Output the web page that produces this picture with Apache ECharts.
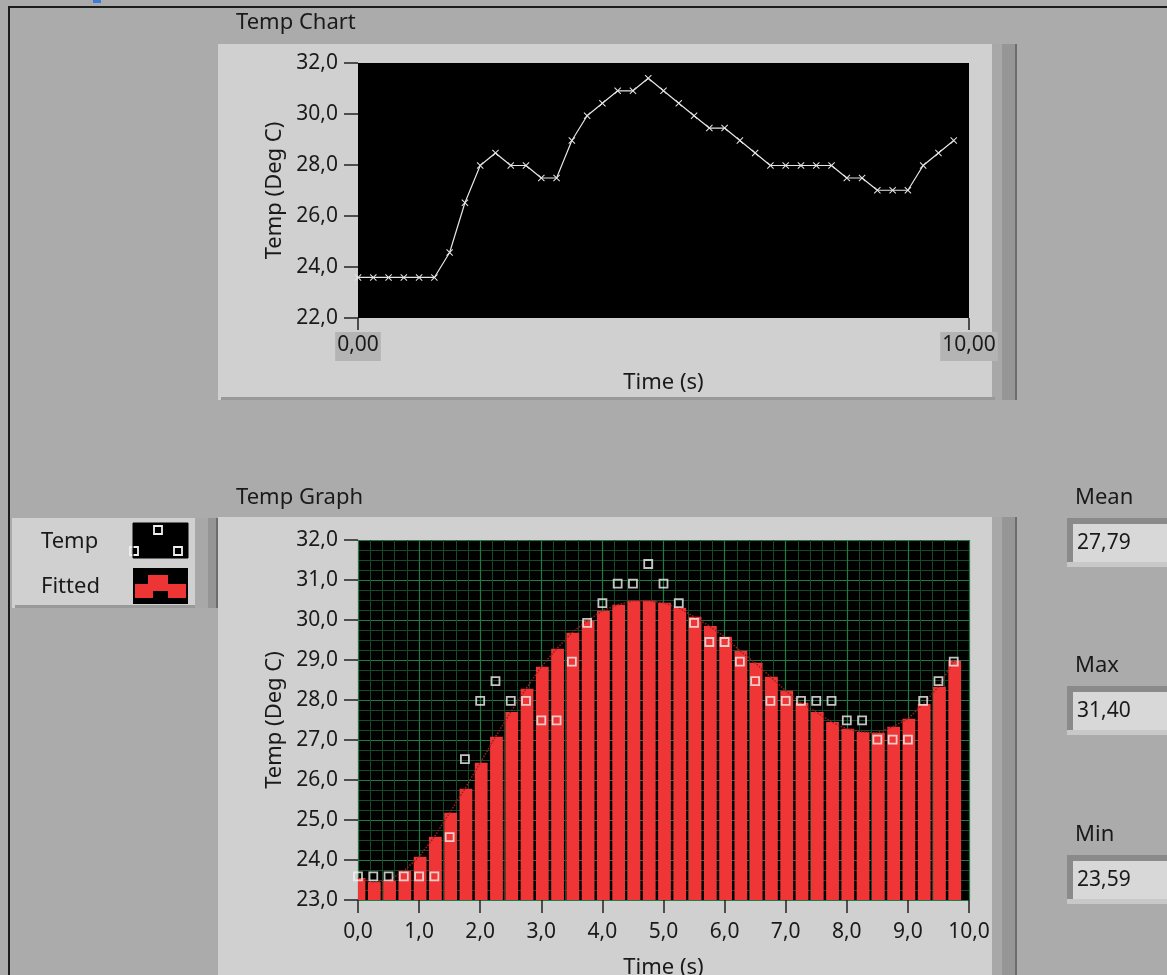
<!DOCTYPE html>
<html><head><meta charset="utf-8">
<script src="https://cdn.jsdelivr.net/npm/echarts@6/dist/echarts.min.js"></script>
<style>html,body{margin:0;padding:0;background:#ababab;}#c{width:1167px;height:975px;}</style>
</head><body><div id="c"></div>
<script>
// ---- data ----
const times = [0, 0.25, 0.5, 0.75, 1, 1.25, 1.5, 1.75, 2, 2.25, 2.5, 2.75, 3, 3.25, 3.5, 3.75, 4, 4.25, 4.5, 4.75,
               5, 5.25, 5.5, 5.75, 6, 6.25, 6.5, 6.75, 7, 7.25, 7.5, 7.75, 8, 8.25, 8.5, 8.75, 9, 9.25, 9.5, 9.75];
const tempValues = [23.59, 23.59, 23.59, 23.59, 23.59, 23.59, 24.57, 26.52, 27.98, 28.47, 27.98, 27.98, 27.49, 27.49, 28.96, 29.93, 30.42, 30.91, 30.91, 31.40,
                    30.91, 30.42, 29.93, 29.45, 29.45, 28.96, 28.47, 27.98, 27.98, 27.98, 27.98, 27.98, 27.49, 27.49, 27.01, 27.01, 27.01, 27.98, 28.47, 28.96];
const fittedValues = [23.55, 23.45, 23.48, 23.73, 24.08, 24.58, 25.18, 25.78, 26.43, 27.08, 27.70, 28.28, 28.83, 29.28, 29.68, 29.98, 30.23, 30.38, 30.48, 30.48,
                      30.43, 30.30, 30.08, 29.85, 29.58, 29.23, 28.93, 28.58, 28.23, 27.93, 27.70, 27.45, 27.28, 27.20, 27.18, 27.33, 27.53, 27.90, 28.33, 28.98];
const statNames = ['Mean', 'Max', 'Min'];
const statValues = ['27,79', '31,40', '23,59'];
const chartTitle = 'Temp Chart';
const graphTitle = 'Temp Graph';
const legendNames = ['Temp', 'Fitted'];
const xName = 'Time (s)';
const yName = 'Temp (Deg C)';
const chartY = {min: 22, max: 32, interval: 2};
const graphY = {min: 23, max: 32, interval: 1};
const xRange = {min: 0, max: 10};

// ---- styling ----
const FONT = 'Noto Sans';
const FS = 22;      // words
const FN = 21;      // numbers
const TXT = '#1a1a1a';
const comma = (v, d) => v.toFixed(d).replace('.', ',');
const font = s => s + 'px "' + FONT + '"';

const tempPairs = times.map((t, i) => [t, tempValues[i]]);
const fitPairs = times.map((t, i) => [t, fittedValues[i]]);

function frame(x, y, w, h, strips) {
  const els = [
    {type: 'rect', shape: {x: x, y: y, width: w, height: h}, style: {fill: '#d0d0d0'}, z: -10},
    {type: 'rect', shape: {x: x + 3, y: y + h - 3, width: w, height: 3}, style: {fill: '#999999'}, z: -9}
  ];
  if (strips) {
    els.push({type: 'rect', shape: {x: x + w, y: y, width: 10, height: h}, style: {fill: '#a8a8a8'}, z: -10});
    els.push({type: 'rect', shape: {x: x + w + 10, y: y, width: 13, height: h}, style: {fill: '#969696'}, z: -10});
    els.push({type: 'rect', shape: {x: x + w + 23, y: y, width: 2, height: h}, style: {fill: '#6c6c6c'}, z: -10});
  }
  return els;
}

const graphics = [];
graphics.push({type: 'rect', shape: {x: 8, y: 6, width: 1159, height: 2}, style: {fill: '#1c1c1c'}, z: -5});
graphics.push({type: 'rect', shape: {x: 8, y: 6, width: 2, height: 969}, style: {fill: '#1c1c1c'}, z: -5});
graphics.push({type: 'rect', shape: {x: 93, y: 0, width: 8, height: 3}, style: {fill: '#3b7dd8'}, z: -5});
graphics.push(...frame(218, 44, 774, 356, true));
graphics.push(...frame(218, 517, 774, 470, true));
graphics.push({type: 'rect', shape: {x: 12, y: 518, width: 183, height: 90}, style: {fill: '#d0d0d0'}, z: -10});
graphics.push({type: 'rect', shape: {x: 15, y: 605, width: 180, height: 3}, style: {fill: '#999999'}, z: -9});
graphics.push({type: 'rect', shape: {x: 195, y: 518, width: 13, height: 90}, style: {fill: '#a8a8a8'}, z: -10});
graphics.push({type: 'rect', shape: {x: 208, y: 518, width: 8, height: 90}, style: {fill: '#959595'}, z: -10});
graphics.push({type: 'rect', shape: {x: 216, y: 518, width: 2, height: 90}, style: {fill: '#6c6c6c'}, z: -10});
graphics.push({type: 'text', x: 236, y: 23, style: {text: chartTitle, font: font(FS), fill: TXT, verticalAlign: 'middle'}});
graphics.push({type: 'text', x: 236, y: 498, style: {text: graphTitle, font: font(FS), fill: TXT, verticalAlign: 'middle'}});
graphics.push({type: 'text', x: 41, y: 542, style: {text: legendNames[0], font: font(FS), fill: TXT, verticalAlign: 'middle'}});
graphics.push({type: 'text', x: 41, y: 587, style: {text: legendNames[1], font: font(FS), fill: TXT, verticalAlign: 'middle'}});
graphics.push({type: 'rect', shape: {x: 133, y: 523, width: 55, height: 35}, style: {fill: '#000'}});
graphics.push({type: 'rect', shape: {x: 154, y: 526, width: 8, height: 8}, style: {fill: 'none', stroke: '#f0f0f0', lineWidth: 1.8}});
graphics.push({type: 'rect', shape: {x: 130, y: 547, width: 8, height: 8}, style: {fill: 'none', stroke: '#f0f0f0', lineWidth: 1.8}});
graphics.push({type: 'rect', shape: {x: 174, y: 547, width: 8, height: 8}, style: {fill: 'none', stroke: '#f0f0f0', lineWidth: 1.8}});
graphics.push({type: 'rect', shape: {x: 133, y: 523, width: 55, height: 35}, style: {fill: 'none', stroke: '#000', lineWidth: 1}});
graphics.push({type: 'rect', shape: {x: 133, y: 568, width: 55, height: 36}, style: {fill: '#000'}});
graphics.push({type: 'polygon', shape: {points: [[135, 598], [135, 584], [148, 584], [148, 575], [168, 575], [168, 584], [186, 584], [186, 598], [168, 598], [168, 591], [153, 591], [153, 598]]}, style: {fill: '#ee3535'}});
const statY = [518, 686, 855];
statNames.forEach((n, i) => {
  const y = statY[i];
  graphics.push({type: 'text', x: 1075, y: y - 20, style: {text: n, font: font(FS), fill: TXT, verticalAlign: 'middle'}});
  graphics.push({type: 'rect', shape: {x: 1067, y: y, width: 100, height: 49}, style: {fill: '#c8c8c8'}, z: -5});
  graphics.push({type: 'rect', shape: {x: 1067, y: y, width: 100, height: 44}, style: {fill: '#8a8a8a'}, z: -5});
  graphics.push({type: 'rect', shape: {x: 1073, y: y + 6, width: 94, height: 38}, style: {fill: '#d8d8d8'}, z: -4});
  graphics.push({type: 'text', x: 1077, y: y + 25, style: {text: statValues[i], font: font(FN), fill: TXT, verticalAlign: 'middle'}});
});

const crossPath = 'path://M0,1L1,0L5,4L9,0L10,1L6,5L10,9L9,10L5,6L1,10L0,9L4,5Z';
const wordText = {fontFamily: FONT, fontSize: FS, color: TXT};
const numText = {fontFamily: FONT, fontSize: FN, color: TXT};

const option = {
  animation: false,
  backgroundColor: '#ababab',
  textStyle: {fontFamily: FONT},
  graphic: {elements: graphics},
  grid: [
    {left: 358, top: 63, width: 611, height: 255, show: true, backgroundColor: '#000', borderWidth: 0, containLabel: false, outerBoundsMode: 'none'},
    {left: 358, top: 540, width: 611, height: 360, show: true, backgroundColor: '#000', borderWidth: 0, containLabel: false, outerBoundsMode: 'none'}
  ],
  xAxis: [
    {type: 'value', gridIndex: 0, min: xRange.min, max: xRange.max, interval: 10,
     axisLine: {show: false}, axisTick: {show: true, length: 12, lineStyle: {color: '#222', width: 1.5}},
     axisLabel: Object.assign({formatter: v => comma(v, 2), margin: 14, backgroundColor: '#b4b4b4', padding: [3, 2, 5, 2]}, numText),
     splitLine: {show: false},
     name: xName, nameLocation: 'middle', nameGap: 54, nameTextStyle: wordText},
    {type: 'value', gridIndex: 1, min: xRange.min, max: xRange.max, interval: 1,
     axisLine: {show: false}, axisTick: {show: true, length: 13, lineStyle: {color: '#222', width: 1.5}},
     axisLabel: Object.assign({formatter: v => comma(v, 1), margin: 22}, numText),
     splitLine: {show: true, lineStyle: {color: '#1f7a43', width: 1.2}},
     minorTick: {show: false, splitNumber: 5},
     minorSplitLine: {show: true, lineStyle: {color: '#134a28', width: 1}},
     name: xName, nameLocation: 'middle', nameGap: 57, nameTextStyle: wordText},
  ],
  yAxis: [
    {type: 'value', gridIndex: 0, min: chartY.min, max: chartY.max, interval: chartY.interval,
     axisLine: {show: false}, axisTick: {show: true, length: 14, lineStyle: {color: '#222', width: 1.5}},
     axisLabel: Object.assign({formatter: v => comma(v, 1), margin: 20}, numText),
     splitLine: {show: false},
     name: yName, nameLocation: 'middle', nameGap: 67, nameRotate: 90, nameTextStyle: wordText},
    {type: 'value', gridIndex: 1, min: graphY.min, max: graphY.max, interval: graphY.interval,
     axisLine: {show: false}, axisTick: {show: true, length: 14, lineStyle: {color: '#222', width: 1.5}},
     axisLabel: Object.assign({formatter: v => comma(v, 1), margin: 20}, numText),
     splitLine: {show: true, lineStyle: {color: '#1f7a43', width: 1.2}},
     minorTick: {show: false, splitNumber: 4},
     minorSplitLine: {show: true, lineStyle: {color: '#134a28', width: 1}},
     name: yName, nameLocation: 'middle', nameGap: 67, nameRotate: 90, nameTextStyle: wordText}
  ],
  series: [
    {type: 'line', xAxisIndex: 0, yAxisIndex: 0, data: tempPairs,
     symbol: crossPath, symbolSize: 7, showSymbol: true,
     lineStyle: {color: '#e6e6e6', width: 1.2}, itemStyle: {color: '#e6e6e6'}, z: 3},
    {type: 'custom', xAxisIndex: 1, yAxisIndex: 1, data: fitPairs, clip: true, z: 2,
     renderItem: function (params, api) {
       const t = api.value(0), v = api.value(1);
       const top = api.coord([t, v]);
       const base = api.coord([t, graphY.min]);
       const w = api.size([0.25, 0])[0] - 2.5;
       return {type: 'rect', shape: {x: top[0] - w / 2 + 1, y: top[1], width: w, height: base[1] - top[1]}, style: {fill: '#ef3536'}};
     }},
    {type: 'line', xAxisIndex: 1, yAxisIndex: 1, data: fitPairs, symbol: 'none',
     lineStyle: {color: '#9c1d1d', width: 1.5, type: 'dotted'}, z: 3},
    {type: 'scatter', xAxisIndex: 1, yAxisIndex: 1, data: tempPairs, symbol: 'rect', symbolSize: 8,
     itemStyle: {color: 'rgba(0,0,0,0)', borderColor: '#f2f2f2', borderWidth: 1.8}, z: 4}
  ]
};
const chart = echarts.init(document.getElementById('c'), null, {renderer: 'canvas'});
chart.setOption(option);
</script>
</body></html>
